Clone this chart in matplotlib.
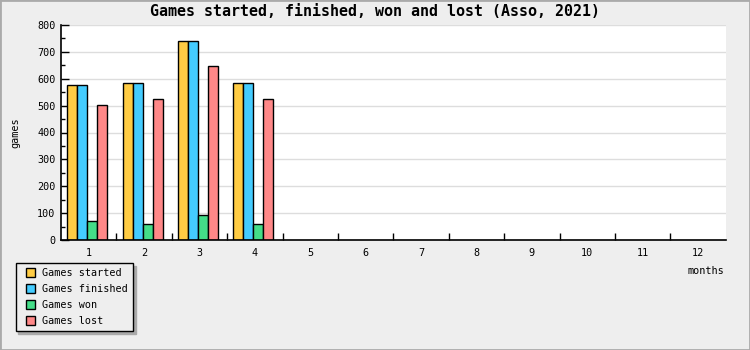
import numpy as np
import matplotlib
matplotlib.use("Agg")
from matplotlib import pyplot as plt
from matplotlib.patches import Rectangle
from matplotlib.container import BarContainer
from matplotlib.legend_handler import HandlerPatch

months = list(range(1, 13))
started = [578, 585, 741, 585]
finished = [578, 585, 741, 585]
won = [70, 58, 92, 58]
lost = [503, 525, 648, 525]

series = [("Games started", started, "#ffcc44"),
          ("Games finished", finished, "#44ccff"),
          ("Games won", won, "#44dd88"),
          ("Games lost", lost, "#ff8888")]

plt.rcParams['font.family'] = ['DejaVu Sans Mono']
BG = "#eeeeee"


def square_patch(legend, orig_handle, xdescent, ydescent, width, height, fontsize):
    # square sitting at the right end of the handle box
    return Rectangle((width - height - xdescent, -ydescent), height, height)


def first_bar(handle, orig):
    handle.update_from(orig.patches[0])


fig = plt.figure(figsize=(7.5, 3.5), dpi=100, facecolor=BG)
fig.patches.append(plt.Rectangle((0, 0), 1, 1, transform=fig.transFigure,
                                 fill=False, edgecolor="#aaaaaa", linewidth=2))

ax = fig.add_axes([61 / 750, 110 / 350, 664.7 / 750, 215 / 350])
ax.set_facecolor("white")

bar_w = 0.18
offset = 0.114
for k, (name, vals, col) in enumerate(series):
    x = np.arange(1, len(vals) + 1) - 0.5 + offset + k * bar_w
    ax.bar(x, vals, width=bar_w, align="edge", color=col, edgecolor="black",
           linewidth=1, label=name, zorder=3)

ax.set_xlim(0.5, 12.5)
ax.set_ylim(0, 800)

# x: tick marks on boundaries, labels at centres
ax.set_xticks(np.arange(1.5, 12.5, 1))
ax.set_xticklabels([])
ax.tick_params(axis="x", which="major", direction="in", length=5, width=1, color="black")
ax.set_xticks(months, minor=True)
ax.set_xticklabels([str(m) for m in months], minor=True)
ax.tick_params(axis="x", which="minor", length=0, pad=6, labelsize=7.3)

ax.set_yticks(np.arange(0, 801, 100))
ax.set_yticks(np.arange(50, 800, 100), minor=True)
ax.tick_params(axis="y", which="major", direction="in", length=6, width=1, pad=4, labelsize=7.3)
ax.tick_params(axis="y", which="minor", direction="in", length=3, width=1)
ax.grid(axis="y", which="major", color="#dddddd", linewidth=1, zorder=0)

for s in ["top", "right"]:
    ax.spines[s].set_visible(False)
for s in ["left", "bottom"]:
    ax.spines[s].set_linewidth(1.2)
    ax.spines[s].set_zorder(4)

fig.text(0.5, 1 - 12 / 350, "Games started, finished, won and lost (Asso, 2021)",
         ha="center", va="center", fontsize=10.8, fontweight="bold")
fig.text(15 / 750, 1 - 133 / 350, "games", rotation=90, ha="center", va="center", fontsize=7.3)
fig.text(724 / 750, 1 - 271 / 350, "months", ha="right", va="center", fontsize=7.3)

handles, labels = ax.get_legend_handles_labels()
leg = fig.legend(handles, labels, loc="upper left",
                 bbox_to_anchor=(15.7 / 750, 1 - 263.3 / 350),
                 bbox_transform=fig.transFigure, borderaxespad=0, fontsize=7.3,
                 handlelength=1.4, handleheight=1.0, handletextpad=0.7,
                 labelspacing=0.58, borderpad=0.5, fancybox=False,
                 handler_map={BarContainer: HandlerPatch(patch_func=square_patch,
                                                         update_func=first_bar)},
                 shadow={"color": "#aaaaaa", "alpha": 1}, framealpha=1)
leg.get_frame().set_facecolor(BG)
leg.get_frame().set_edgecolor("black")
leg.get_frame().set_linewidth(1)

fig.savefig("out.png", dpi=100, facecolor=BG)
